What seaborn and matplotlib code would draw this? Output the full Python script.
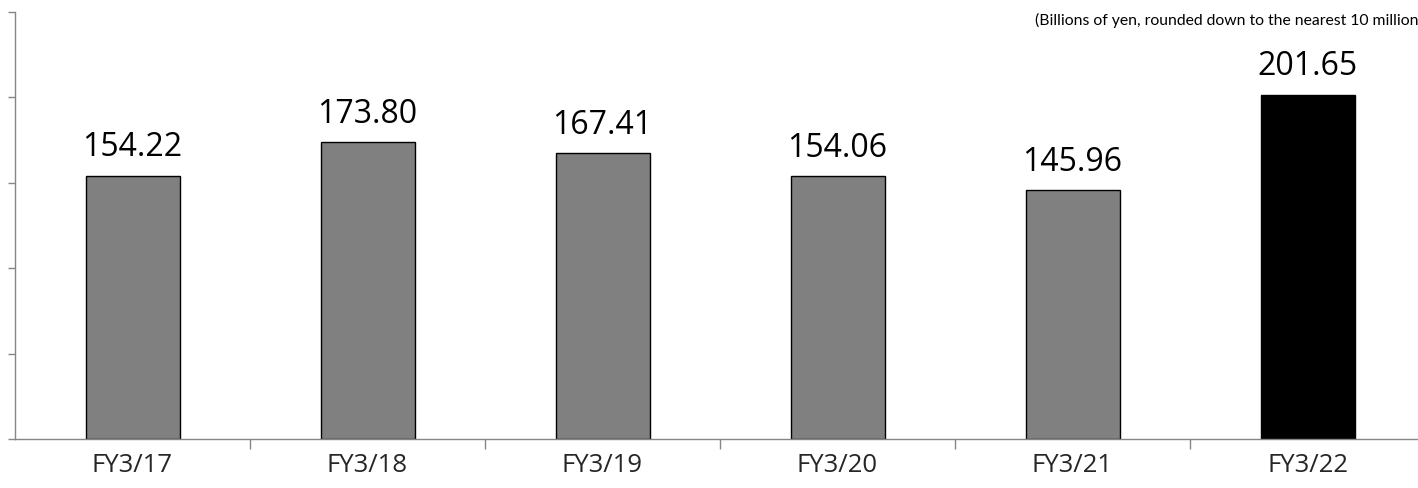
import matplotlib
matplotlib.use("Agg")
import matplotlib.pyplot as plt
from matplotlib.ticker import FixedLocator, NullFormatter
import seaborn as sns
import pandas as pd

categories = ["FY3/17", "FY3/18", "FY3/19", "FY3/20", "FY3/21", "FY3/22"]
values = [154.22, 173.80, 167.41, 154.06, 145.96, 201.65]
value_labels = ["154.22", "173.80", "167.41", "154.06", "145.96", "201.65"]
bar_colors = ["#808080", "#808080", "#808080", "#808080", "#808080", "#000000"]
note = "(Billions of yen, rounded down to the nearest 10 million yen)"

sns.set_style("white")
plt.rcParams['font.family'] = ['Open Sans', 'DejaVu Sans']

df = pd.DataFrame({"cat": categories, "val": values})

W, H = 1418, 488
fig = plt.figure(figsize=(W / 100, H / 100), dpi=100)
left = 15 / W
bottom = (H - 439) / H
height = (439 - 12) / H
width = 1410 / W
ax = fig.add_axes([left, bottom, width, height])

sns.barplot(data=df, x="cat", y="val", hue="cat", palette=bar_colors,
            width=0.4, edgecolor="black", linewidth=1.0, legend=False,
            saturation=1, ax=ax)

ax.set_ylim(0, 250)
ax.set_xlim(-0.5, len(categories) - 0.5)
ax.set_yticks([0, 50, 100, 150, 200, 250])
ax.set_yticklabels([])
ax.set_xlabel("")
ax.set_ylabel("")

for s in ["top", "right"]:
    ax.spines[s].set_visible(False)
for s in ["left", "bottom"]:
    ax.spines[s].set_color("#868686")
    ax.spines[s].set_linewidth(1.0)

ax.tick_params(axis="y", which="major", length=5, color="#868686", width=1, direction="out", left=True)
ax.tick_params(axis="x", which="major", length=0, labelsize=18.5, pad=10)
ax.xaxis.set_minor_locator(FixedLocator([i + 0.5 for i in range(len(categories) - 1)]))
ax.xaxis.set_minor_formatter(NullFormatter())
ax.tick_params(axis="x", which="minor", length=7, color="#868686", width=1, direction="out", bottom=True)

for i, (v, lab) in enumerate(zip(values, value_labels)):
    ax.annotate(lab, (i, v), xytext=(0, 8), textcoords="offset points",
                ha="center", va="bottom", fontsize=23, color="black")

fig.text(1035 / W, 1 - 20 / H, note, ha="left", va="center", fontsize=11.3,
         color="black", family=["Lato", "DejaVu Sans"])

fig.savefig("out.png", dpi=100)
